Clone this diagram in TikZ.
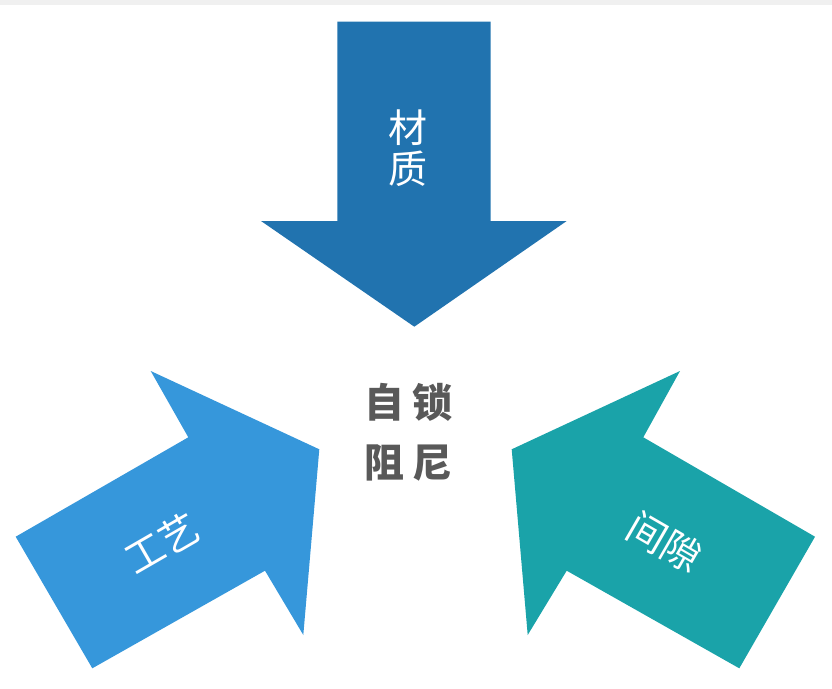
\documentclass[tikz,border=0pt]{standalone}
\usepackage{fontspec}
\newfontfamily\cjk{Noto Sans CJK SC}
\definecolor{topblue}{RGB}{33,115,175}
\definecolor{leftblue}{RGB}{54,151,219}
\definecolor{rightteal}{RGB}{26,163,169}
\definecolor{centergray}{RGB}{89,89,89}
\tikzset{
  arrowshape/.style={draw=none},
  whitelabel/.style={text=white, font=\cjk\fontsize{39}{41}\selectfont, align=center, inner sep=0pt},
  centerlabel/.style={text=centergray, font=\cjk\bfseries\fontsize{40}{60}\selectfont, align=center, inner sep=0pt}
}
\begin{document}
\begin{tikzpicture}[x=1pt,y=-1pt]
\useasboundingbox (0,0) rectangle (832,688);
\fill[gray!12] (0,0) rectangle (832,5);
% top arrow
\fill[topblue] (337.3,21.7) -- (490.7,21.7) -- (490.7,221) -- (566.7,221) -- (414.3,326.7) -- (261,221) -- (337.3,221) -- cycle;
% left arrow
\fill[leftblue] (15.7,536.7) -- (188.3,437.3) -- (150.7,371) -- (319.3,449.3) -- (303.3,635) -- (265,570.7) -- (92.3,668.3) -- cycle;
% right arrow
\fill[rightteal] (815,536.7) -- (643.3,437.3) -- (680,371) -- (511.7,449.3) -- (527.7,635) -- (566.7,570.7) -- (739.3,668.3) -- cycle;
\node[whitelabel] (material) at (408,148) {材\\质};
\node[whitelabel, rotate=30] (process) at (162,543) {工艺};
\node[whitelabel, rotate=-30] (gap) at (665,542) {间隙};
\node[centerlabel] (center) at (408,432) {自\hspace{8pt}锁\\阻\hspace{8pt}尼};
\end{tikzpicture}
\end{document}
